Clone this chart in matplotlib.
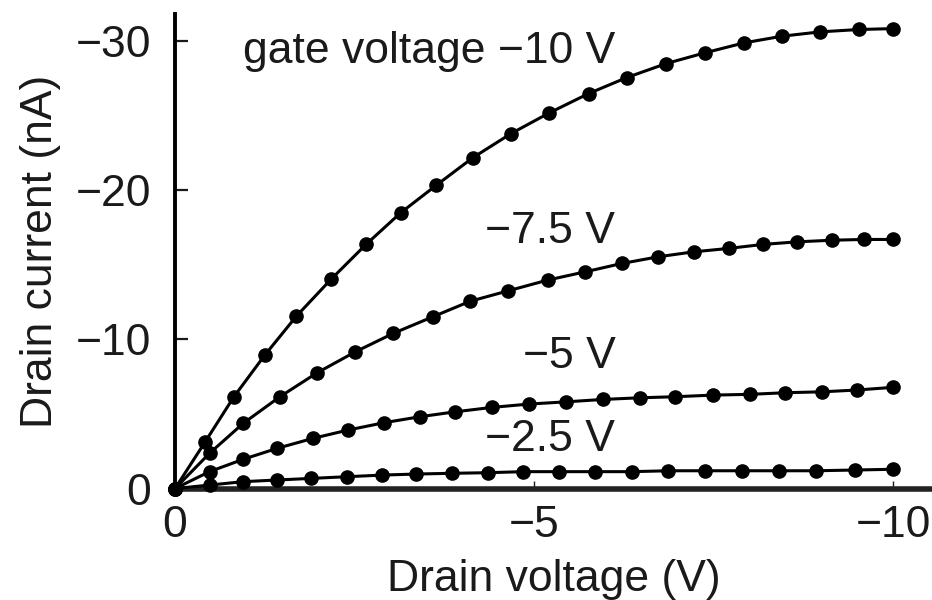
#!/usr/bin/env python3
"""Drain current vs drain voltage for four gate voltages."""

import matplotlib
matplotlib.use('Agg')
import matplotlib.pyplot as plt

plt.rcParams['font.family'] = ['Liberation Sans', 'DejaVu Sans']

# Drain voltage (V) and drain current (nA), per curve
vd_10 = [0, -0.42, -0.82, -1.25, -1.69, -2.17, -2.66, -3.14, -3.64, -4.15, -4.68,
         -5.21, -5.76, -6.29, -6.84, -7.38, -7.92, -8.45, -8.98, -9.52, -10.0]
id_10 = [0, -3.13, -6.15, -8.94, -11.55, -14.01, -16.36, -18.47, -20.33, -22.18, -23.79,
         -25.17, -26.47, -27.54, -28.48, -29.20, -29.86, -30.31, -30.60, -30.76, -30.82]

vd_75 = [0, -0.48, -0.95, -1.46, -1.98, -2.51, -3.04, -3.59, -4.11, -4.64, -5.19,
         -5.71, -6.22, -6.73, -7.22, -7.71, -8.19, -8.66, -9.15, -9.59, -10.0]
id_75 = [0, -2.36, -4.37, -6.15, -7.76, -9.16, -10.40, -11.51, -12.55, -13.25, -13.97,
         -14.52, -15.08, -15.53, -15.86, -16.09, -16.36, -16.53, -16.64, -16.69, -16.69]

vd_5 = [0, -0.48, -0.95, -1.42, -1.92, -2.41, -2.91, -3.41, -3.90, -4.42, -4.93,
        -5.45, -5.96, -6.47, -6.96, -7.49, -8.00, -8.50, -9.01, -9.49, -10.0]
id_5 = [0, -1.13, -1.96, -2.69, -3.36, -3.92, -4.41, -4.81, -5.14, -5.44, -5.66,
        -5.81, -5.97, -6.08, -6.15, -6.26, -6.31, -6.42, -6.48, -6.60, -6.78]

vd_25 = [0, -0.48, -0.95, -1.42, -1.90, -2.39, -2.88, -3.36, -3.85, -4.36, -4.85,
         -5.34, -5.85, -6.36, -6.87, -7.38, -7.90, -8.41, -8.93, -9.47, -10.0]
id_25 = [0, -0.23, -0.46, -0.57, -0.68, -0.79, -0.90, -0.97, -1.02, -1.06, -1.13,
         -1.13, -1.13, -1.13, -1.19, -1.19, -1.19, -1.19, -1.19, -1.24, -1.29]

curve_labels = ['gate voltage \u221210 V', '\u22127.5 V', '\u22125 V', '\u22122.5 V']
label_x = [-6.13, -6.13, -6.13, -6.13]
label_y = [-29.3, -17.2, -8.84, -3.3]

x_ticks = [0, -5, -10]
y_ticks = [0, -10, -20, -30]

FS = 32
TXT = '#1a1a1a'

fig = plt.figure(figsize=(9.32, 6.0), dpi=100)
ax = fig.add_axes([0.1878, 0.1858, 0.8122, 0.7909])

for vd, cur in [(vd_10, id_10), (vd_75, id_75), (vd_5, id_5), (vd_25, id_25)]:
    ax.plot(vd, cur, color='black', linewidth=2.2, marker='o',
            markersize=9.5, markerfacecolor='black', markeredgecolor='black',
            clip_on=False, zorder=3)

for text, tx, ty in zip(curve_labels, label_x, label_y):
    ax.text(tx, ty, text, ha='right', va='center', fontsize=FS, color=TXT)

ax.set_xlim(0, -10.54)
ax.set_ylim(0, -31.8)
ax.set_xticks(x_ticks)
ax.set_yticks(y_ticks)
ax.set_xticklabels(['0', '\u22125', '\u221210'])
ax.set_yticklabels(['0', '\u221210', '\u221220', '\u221230'])

ax.spines['top'].set_visible(False)
ax.spines['right'].set_visible(False)
ax.spines['left'].set_linewidth(2.8)
ax.spines['bottom'].set_linewidth(4.0)
ax.spines['bottom'].set_color('#222222')

ax.tick_params(axis='y', direction='in', length=9, width=1.6, pad=17, labelsize=FS,
               colors=TXT)
ax.tick_params(axis='x', direction='in', length=6, width=1.0, pad=12, labelsize=FS,
               colors=TXT)

ax.set_xlabel('Drain voltage (V)', fontsize=FS, color=TXT, labelpad=9)
ax.set_ylabel('Drain current (nA)', fontsize=FS, color=TXT, labelpad=11)

fig.savefig('out.png', dpi=100)
